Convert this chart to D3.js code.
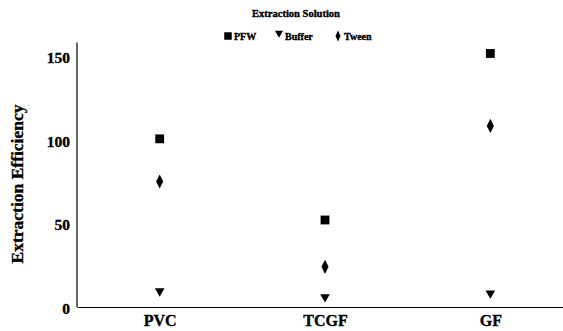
<!DOCTYPE html>
<html>
<head>
<meta charset="utf-8">
<script src="https://cdn.jsdelivr.net/npm/d3@7"></script>
<style>
  body { margin: 0; background: #fff; }
  svg text { font-family: "Liberation Serif", "DejaVu Serif", serif; font-weight: bold; fill: #000; stroke: #000; stroke-width: 0.35px; }
</style>
</head>
<body>
<div id="chart"></div>
<script>
const categories = ["PVC", "TCGF", "GF"];
const seriesNames = ["PFW", "Buffer", "Tween"];
const pfw = [100.5, 52, 151.5];
const buffer = [9.5, 6, 8.2];
const tween = [75, 24, 108.2];
const yTicks = [0, 50, 100, 150];

const width = 563, height = 331;

const svg = d3.select("#chart").append("svg")
    .attr("width", width)
    .attr("height", height);

const x = d3.scalePoint()
    .domain(categories)
    .range([77, 573])
    .padding(0.5);

const y = d3.scaleLinear()
    .domain([0, 150])
    .range([307, 56]);

// symbols per series
const shapes = {
    PFW: d3.symbol().type(d3.symbolSquare).size(78),
    Buffer: d3.symbol().type(d3.symbolTriangle).size(40),
    Tween: d3.symbol().type(d3.symbolDiamond).size(44)
};
const seriesData = [
    { name: "PFW", values: pfw },
    { name: "Buffer", values: buffer },
    { name: "Tween", values: tween }
];

// axes
const yAxis = svg.append("g")
    .attr("transform", "translate(77,0)")
    .call(d3.axisLeft(y).tickValues(yTicks).tickSize(0).tickPadding(7));
yAxis.select(".domain").attr("d", `M0,${y(158)}V${y(0)}`).attr("stroke", "#000").attr("stroke-width", 1.2);
yAxis.selectAll("text").style("font-size", "15.5px").attr("dy", "0.35em")
    .attr("transform", "translate(0,1)");

const xAxis = svg.append("g")
    .attr("transform", `translate(0,${y(0)})`)
    .call(d3.axisBottom(x).tickSize(0).tickPadding(8));
xAxis.select(".domain").attr("stroke", "#000").attr("stroke-width", 1.2);
xAxis.selectAll("text").style("font-size", "16px").attr("dy", "0.71em");

// y label
svg.append("text")
    .attr("transform", "translate(23,184) rotate(-90)")
    .attr("text-anchor", "middle")
    .style("font-size", "17.5px")
    .text("Extraction Efficiency");

// markers
seriesData.forEach(s => {
    svg.append("g").selectAll("path")
        .data(s.values)
        .enter()
        .append("path")
        .attr("d", shapes[s.name])
        .attr("transform", (d, i) => {
            const rot = s.name === "Buffer" ? " rotate(180)" : "";
            const sy = s.name === "Tween" ? " scale(1,1.15)" : "";
            return `translate(${x(categories[i])},${y(d)})${rot}${sy}`;
        })
        .attr("fill", "#000");
});

// legend
svg.append("text")
    .attr("x", 296).attr("y", 17)
    .attr("text-anchor", "middle")
    .style("font-size", "10.5px")
    .text("Extraction Solution");

const legendX = [228, 279, 338];
const legend = svg.append("g");
seriesNames.forEach((n, i) => {
    const dy = n === "Buffer" ? 33 : 36;
    const rot = n === "Buffer" ? " rotate(180)" : "";
    const sc = n === "PFW" ? " scale(0.85)" : (n === "Tween" ? " scale(0.7,0.9)" : " scale(0.85)");
    legend.append("path")
        .attr("d", shapes[n])
        .attr("transform", `translate(${legendX[i]},${dy})${rot}${sc}`)
        .attr("fill", "#000");
    legend.append("text")
        .attr("x", legendX[i] + 6)
        .attr("y", 39.5)
        .style("font-size", "10px")
        .text(n);
});
</script>
</body>
</html>
